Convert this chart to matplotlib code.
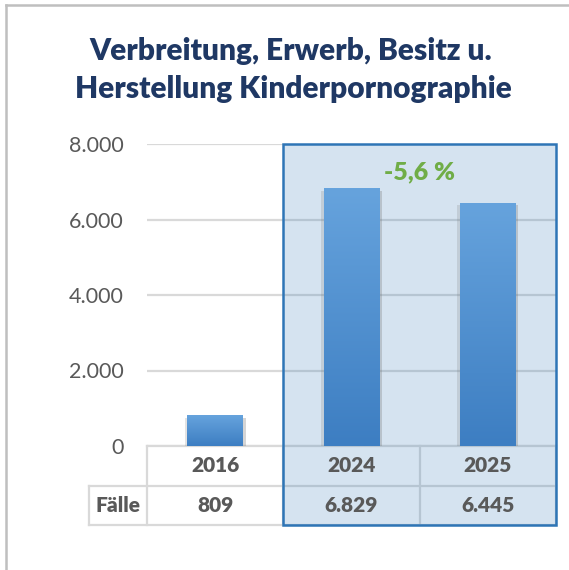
import matplotlib
matplotlib.use("Agg")
import numpy as np
import matplotlib.pyplot as plt
from matplotlib.patches import Rectangle
from matplotlib.transforms import blended_transform_factory
from matplotlib.colors import LinearSegmentedColormap
import matplotlib.patheffects as pe

years = ["2016", "2024", "2025"]
cases = [809, 6829, 6445]
case_labels = ["809", "6.829", "6.445"]
row_label = "Fälle"
change_label = "-5,6 %"
title_lines = ["Verbreitung, Erwerb, Besitz u.", "Herstellung Kinderpornographie"]
y_ticks = [0, 2000, 4000, 6000, 8000]
y_tick_labels = ["0", "2.000", "4.000", "6.000", "8.000"]

plt.rcParams['font.family'] = ['Lato', 'DejaVu Sans']

W, H = 569, 570
fig = plt.figure(figsize=(W / 100, H / 100), dpi=100)

# plot area in pixels
left, right, top, bottom = 147.3, 555.7, 144, 446
ax = fig.add_axes([left / W, 1 - bottom / H, (right - left) / W, (bottom - top) / H])

grey_txt = '#595959'
line_grey = '#D9D9D9'
box_blue = (46 / 255, 117 / 255, 182 / 255)

x = np.arange(len(years))
bw = 0.41
bars = ax.bar(x, cases, width=bw, color='#5596D6', zorder=3)
grad = np.linspace(0, 1, 100).reshape(-1, 1)
cmap = LinearSegmentedColormap.from_list('bar', ['#3D7EC2', '#66A3DD'])
for b, xi, v in zip(bars, x, cases):
    b.set_path_effects([pe.SimplePatchShadow(offset=(2, -2), shadow_rgbFace='#777777', alpha=0.3),
                        pe.SimplePatchShadow(offset=(-2, -2), shadow_rgbFace='#777777', alpha=0.2),
                        pe.Normal()])
    im = ax.imshow(grad, extent=(xi - bw / 2, xi + bw / 2, 0, v), origin='lower',
                   cmap=cmap, aspect='auto', zorder=4)
    im.set_clip_path(b)

ax.set_xlim(-0.5, 2.5)
ax.set_ylim(0, 8000)
ax.set_yticks(y_ticks)
ax.set_yticklabels(y_tick_labels, fontsize=15.5, color=grey_txt)
ax.tick_params(axis='y', length=0, pad=17)
ax.set_xticks([])
for s in ax.spines.values():
    s.set_visible(False)
ax.yaxis.grid(True, color=line_grey, lw=1.6, zorder=0)
ax.set_axisbelow(True)

# table below the plot
row1 = -39.7 / (bottom - top)
row2 = -78.5 / (bottom - top)
lab_left = (89 - left) / (right - left)
ta = ax.transAxes
kw = dict(transform=ta, color=line_grey, lw=1.6, clip_on=False, zorder=1)
ax.plot([0, 1], [0, 0], **kw)
ax.plot([lab_left, 1], [row1, row1], **kw)
ax.plot([lab_left, 1], [row2, row2], **kw)
ax.plot([lab_left, lab_left], [row1, row2], **kw)
for cx in [0, 1 / 3, 2 / 3, 1]:
    ax.plot([cx, cx], [0, row2], **kw)

bt = blended_transform_factory(ax.transData, ta)
for xi, yr, lab in zip(x, years, case_labels):
    ax.text(xi, row1 / 2, yr, transform=bt, ha='center', va='center', fontsize=15,
            fontweight='heavy', color=grey_txt, zorder=6)
    ax.text(xi, (row1 + row2) / 2, lab, transform=bt, ha='center', va='center', fontsize=15,
            fontweight='heavy', color=grey_txt, zorder=6)
ax.text(lab_left / 2, (row1 + row2) / 2, row_label, transform=ta, ha='center', va='center',
        fontsize=15, fontweight='heavy', color=grey_txt)

# highlighted box for 2024/2025
ax.add_patch(Rectangle((0.5, row2), 2.0, 1 - row2, transform=bt, facecolor=box_blue,
                       alpha=0.2, edgecolor='none', clip_on=False, zorder=2))
ax.add_patch(Rectangle((0.5, row2), 2.0, 1 - row2, transform=bt, facecolor='none',
                       edgecolor=box_blue, lw=1.8, clip_on=False, zorder=7))

ax.text(1.5, 7257, change_label, ha='center', va='center', fontsize=18, fontweight='heavy',
        color='#70AD47', zorder=6)

# title
fig.text(291 / W, 1 - 60 / H, title_lines[0], ha='center', va='baseline', fontsize=21.5,
         fontweight='heavy', color='#1F3864')
fig.text(293 / W, 1 - 98 / H, title_lines[1], ha='center', va='baseline', fontsize=21.5,
         fontweight='heavy', color='#1F3864')

# outer frame
fig.add_artist(plt.Line2D([6 / W, 6 / W], [0, 1 - 5 / H], transform=fig.transFigure,
                          color='#BFBFBF', lw=1.8))
fig.add_artist(plt.Line2D([6 / W, 1], [1 - 5 / H, 1 - 5 / H], transform=fig.transFigure,
                          color='#BFBFBF', lw=1.8))

fig.savefig('out.png', dpi=100)
